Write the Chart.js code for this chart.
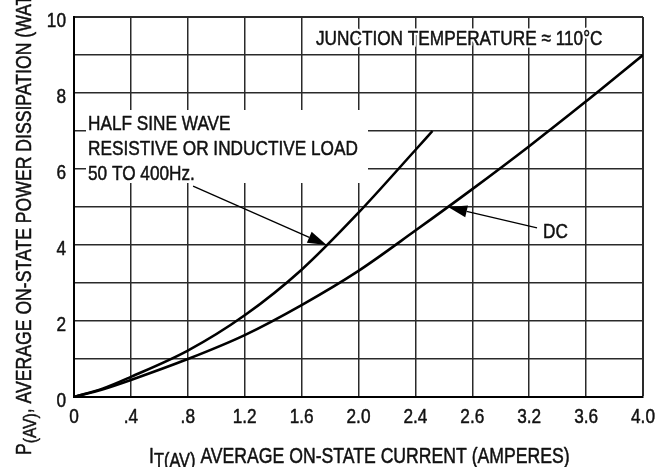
<!DOCTYPE html>
<html>
<head>
<meta charset="utf-8">
<script src="https://cdn.jsdelivr.net/npm/chart.js@4.4.1/dist/chart.umd.min.js"></script>
<style>
  html, body { margin: 0; padding: 0; background: #fff; }
  #wrap { width: 667px; height: 467px; }
</style>
</head>
<body>
<div id="wrap"><canvas id="chart"></canvas></div>
<script>
// Half sine wave curve (amperes, watts)
const halfX = [0, 0.2, 0.4, 0.8, 1.2, 1.6, 2.0, 2.4, 2.52];
const halfY = [0, 0.22, 0.53, 1.22, 2.15, 3.35, 4.85, 6.5, 7.0];
// DC curve
const dcX = [0, 0.2, 0.4, 0.8, 1.2, 1.6, 2.0, 2.4, 2.8, 3.2, 3.6, 4.0];
const dcY = [0, 0.2, 0.45, 1.0, 1.63, 2.42, 3.32, 4.38, 5.47, 6.6, 7.78, 9.0];

// tick values and the labels printed on the sheet (2.6 is as printed)
const xTickValues = [0, 0.4, 0.8, 1.2, 1.6, 2.0, 2.4, 2.8, 3.2, 3.6, 4.0];
const xTickLabels = ['0', '.4', '.8', '1.2', '1.6', '2.0', '2.4', '2.6', '3.2', '3.6', '4.0'];
const yTickLabels = ['0', '', '2', '', '4', '', '6', '', '8', '', '10'];

function hasFont(name) {
	const c = document.createElement('canvas').getContext('2d');
	c.font = '40px monospace';
	const a = c.measureText('AVERAGE WWW 110').width;
	c.font = '40px "' + name + '", monospace';
	return c.measureText('AVERAGE WWW 110').width !== a;
}
const NARROW = hasFont('Liberation Sans Narrow');
const SQUEEZE = NARROW ? 1 : 0.82;

function setFont(ctx, size) {
	ctx.font = NARROW ? size + 'px "Liberation Sans Narrow"' : size + 'px "Liberation Sans", Arial, sans-serif';
}

function textWidth(ctx, s, size) {
	setFont(ctx, size);
	return ctx.measureText(s).width * SQUEEZE;
}

// draws text; halo = white outline that breaks the grid under the letters
function drawText(ctx, s, x, y, size, align, halo) {
	ctx.save();
	ctx.translate(x, y);
	ctx.scale(SQUEEZE, 1);
	setFont(ctx, size);
	ctx.textAlign = align || 'left';
	ctx.textBaseline = 'alphabetic';
	ctx.lineJoin = 'round';
	if (halo) {
		ctx.strokeStyle = '#fff';
		ctx.lineWidth = 5;
		ctx.strokeText(s, 0, 0);
	}
	ctx.fillStyle = '#111';
	ctx.fillText(s, 0, 0);
	// a little extra weight, the scan is heavier than a clean font
	ctx.strokeStyle = '#111';
	ctx.lineWidth = 0.5;
	ctx.strokeText(s, 0, 0);
	ctx.restore();
}

// runs of [text, size, dy] drawn one after the other
function drawRuns(ctx, runs, x, y) {
	let cx = x;
	runs.forEach(function(r) {
		drawText(ctx, r[0], cx, y + r[2], r[1], 'left', false);
		cx += textWidth(ctx, r[0], r[1]);
	});
}

function arrow(ctx, x0, y0, x1, y1) {
	const ang = Math.atan2(y1 - y0, x1 - x0);
	const len = 19, half = 6;
	const bx = x1 - Math.cos(ang) * len, by = y1 - Math.sin(ang) * len;
	ctx.save();
	ctx.strokeStyle = '#000';
	ctx.lineWidth = 1.3;
	ctx.beginPath();
	ctx.moveTo(x0, y0);
	ctx.lineTo(bx, by);
	ctx.stroke();
	ctx.fillStyle = '#000';
	ctx.beginPath();
	ctx.moveTo(x1, y1);
	ctx.lineTo(bx + Math.sin(ang) * half, by - Math.cos(ang) * half);
	ctx.lineTo(bx - Math.sin(ang) * half, by + Math.cos(ang) * half);
	ctx.closePath();
	ctx.fill();
	ctx.restore();
}

const labelsPlugin = {
	id: 'sheetLabels',
	afterDraw(chart) {
		const ctx = chart.ctx;
		const xs = chart.scales.x, ys = chart.scales.y;
		const px = v => xs.getPixelForValue(v);
		const py = v => ys.getPixelForValue(v);

		// tick labels
		xs.ticks.forEach(function(t, i) {
			drawText(ctx, xTickLabels[i], px(t.value), 423, 21, 'center', false);
		});
		ys.ticks.forEach(function(t, i) {
			if (yTickLabels[i]) drawText(ctx, yTickLabels[i], 66, py(t.value) + 10, 21, 'right', false);
		});

		// axis titles
		drawRuns(ctx, [['I', 21.5, 0], ['T(AV)', 20, 4], [' AVERAGE ON-STATE CURRENT (AMPERES)', 21.5, 0]], 149, 463);
		ctx.save();
		ctx.translate(31, 455);
		ctx.rotate(-Math.PI / 2);
		drawRuns(ctx, [['P', 21.5, 0], ['(AV)', 19, 5], [', AVERAGE ON-STATE POWER DISSIPATION (WATTS)', 21.5, 0]], 0, 0);
		ctx.restore();

		// box for the half sine note
		ctx.fillStyle = '#fff';
		ctx.fillRect(86, 110, 282, 73);
		drawText(ctx, 'HALF SINE WAVE', 88, 130, 21, 'left', false);
		drawText(ctx, 'RESISTIVE OR INDUCTIVE LOAD', 88, 155, 21, 'left', false);
		drawText(ctx, '50 TO 400Hz.', 88, 180, 21, 'left', false);

		drawText(ctx, 'JUNCTION TEMPERATURE \u2248 110\u00B0C', 316, 45, 21, 'left', true);
		drawText(ctx, 'DC', 543, 238, 21, 'left', true);

		arrow(ctx, px(0.837), py(5.55), px(1.776), py(4.0));
		arrow(ctx, px(3.255), py(4.45), px(2.63), py(5.0));
	}
};

function pts(xa, ya) {
	return xa.map((x, i) => ({ x: x, y: ya[i] }));
}

const gridColor = '#2a2a2a';

new Chart(document.getElementById('chart'), {
	type: 'line',
	data: {
		datasets: [
			{
				label: 'Half sine wave',
				data: pts(halfX, halfY),
				borderColor: '#000',
				borderWidth: 2.6,
				pointRadius: 0,
				cubicInterpolationMode: 'monotone',
			},
			{
				label: 'DC',
				data: pts(dcX, dcY),
				borderColor: '#000',
				borderWidth: 2.6,
				pointRadius: 0,
				cubicInterpolationMode: 'monotone',
			},
		],
	},
	options: {
		responsive: true,
		maintainAspectRatio: false,
		animation: false,
		events: [],
		layout: { padding: { left: 74, right: 24, top: 17, bottom: 70 } },
		plugins: {
			legend: { display: false },
			tooltip: { enabled: false },
		},
		scales: {
			x: {
				type: 'linear',
				min: 0, max: 4,
				afterBuildTicks: function(scale) {
					scale.ticks = xTickValues.map(v => ({ value: v }));
				},
				afterFit: function(scale) { scale.height = 0; },
				ticks: { display: false },
				grid: {
					drawTicks: false,
					color: gridColor,
					lineWidth: c => (c.tick && c.tick.value === 4 ? 2 : 1.5),
				},
				border: { color: '#000', width: 2 },
			},
			y: {
				min: 0, max: 10,
				afterBuildTicks: function(scale) {
					scale.ticks = yTickLabels.map((l, i) => ({ value: i }));
				},
				afterFit: function(scale) { scale.width = 0; },
				ticks: { display: false },
				grid: {
					drawTicks: false,
					color: gridColor,
					lineWidth: c => (c.tick && c.tick.value === 10 ? 2 : 1.5),
				},
				border: { color: '#000', width: 2 },
			},
		},
	},
	plugins: [labelsPlugin],
});
</script>
</body>
</html>
